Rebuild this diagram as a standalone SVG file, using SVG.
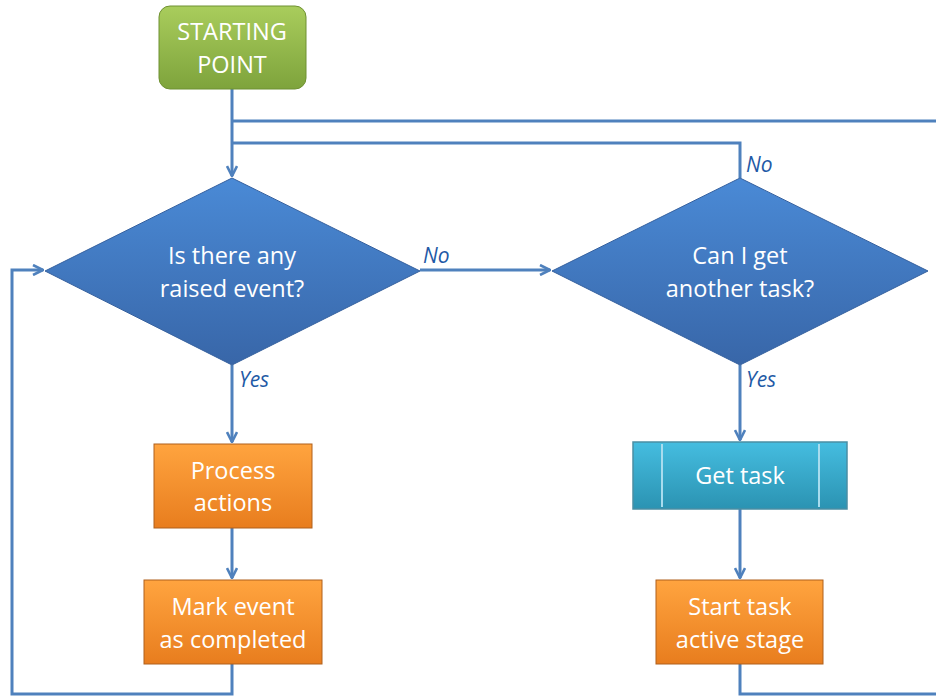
<svg xmlns="http://www.w3.org/2000/svg" width="936" height="698" viewBox="0 0 936 698">
  <style>
    .lbl { font-family: "Open Sans", "Noto Sans", "Liberation Sans", sans-serif; font-size: 23.5px; fill: #ffffff; text-anchor: middle; }
    .br { font-family: "Open Sans", "Noto Sans", "Liberation Sans", sans-serif; font-size: 21px; font-style: italic; fill: #1f5aa6; }
    .wire { fill: none; stroke: #4f81bd; stroke-width: 3; }
  </style>
  <defs>
    <linearGradient id="gGreen" x1="0" y1="0" x2="0" y2="1">
      <stop offset="0" stop-color="#a9cd5c"/>
      <stop offset="1" stop-color="#7ea33c"/>
    </linearGradient>
    <linearGradient id="gBlue" x1="0" y1="0" x2="0" y2="1">
      <stop offset="0" stop-color="#4a8ad6"/>
      <stop offset="1" stop-color="#3866a8"/>
    </linearGradient>
    <linearGradient id="gOrange" x1="0" y1="0" x2="0" y2="1">
      <stop offset="0" stop-color="#ffa43f"/>
      <stop offset="1" stop-color="#e87d1e"/>
    </linearGradient>
    <linearGradient id="gTeal" x1="0" y1="0" x2="0" y2="1">
      <stop offset="0" stop-color="#45bde0"/>
      <stop offset="1" stop-color="#2b93b2"/>
    </linearGradient>
    <marker id="vee" viewBox="0 0 12 12" refX="11" refY="6" markerWidth="12" markerHeight="12" markerUnits="userSpaceOnUse" orient="auto">
      <path d="M1,1 L11,6 L1,11" fill="none" stroke="#4f81bd" stroke-width="2.6"/>
    </marker>
  </defs>

  <!-- connectors -->
  <g id="connectors">
    <path class="wire" d="M232,89 V176" marker-end="url(#vee)"/>
    <path class="wire" d="M232,121 H936"/>
    <path class="wire" d="M232,143 H740 V178"/>
    <path class="wire" d="M420,270 H550" marker-end="url(#vee)"/>
    <path class="wire" d="M232,365 V442" marker-end="url(#vee)"/>
    <path class="wire" d="M232,528 V578" marker-end="url(#vee)"/>
    <path class="wire" d="M232,664 V694 H12 V270 H43" marker-end="url(#vee)"/>
    <path class="wire" d="M740,365 V440" marker-end="url(#vee)"/>
    <path class="wire" d="M740,509 V578" marker-end="url(#vee)"/>
    <path class="wire" d="M740,664 V694 H936"/>
    <text class="br" x="423" y="263">No</text>
    <text class="br" x="746" y="172">No</text>
    <text class="br" x="239" y="387">Yes</text>
    <text class="br" x="746" y="387">Yes</text>
  </g>

  <g id="start">
    <rect x="159" y="6" width="147" height="83" rx="11" fill="url(#gGreen)" stroke="#6f9132" stroke-width="1"/>
    <text class="lbl" x="232" y="40">STARTING</text>
    <text class="lbl" x="232" y="73">POINT</text>
  </g>

  <g id="raised-event">
    <polygon points="232,178 420,271 232,365 45,271" fill="url(#gBlue)" stroke="#35609e" stroke-width="1"/>
    <text class="lbl" x="232" y="264">Is there any</text>
    <text class="lbl" x="232" y="297">raised event?</text>
  </g>

  <g id="another-task">
    <polygon points="740,178 928,271 740,365 552,271" fill="url(#gBlue)" stroke="#35609e" stroke-width="1"/>
    <text class="lbl" x="740" y="264">Can I get</text>
    <text class="lbl" x="740" y="297">another task?</text>
  </g>

  <g id="process-actions">
    <rect x="154" y="444" width="158" height="84" fill="url(#gOrange)" stroke="#b0601c" stroke-width="1"/>
    <text class="lbl" x="233" y="479">Process</text>
    <text class="lbl" x="233" y="511">actions</text>
  </g>

  <g id="mark-completed">
    <rect x="144" y="580" width="178" height="84" fill="url(#gOrange)" stroke="#b0601c" stroke-width="1"/>
    <text class="lbl" x="233" y="615">Mark event</text>
    <text class="lbl" x="233" y="648">as completed</text>
  </g>

  <g id="get-task">
    <rect x="633" y="442" width="214" height="67" fill="url(#gTeal)" stroke="#4a8ea4" stroke-width="1.5"/>
    <line x1="662" y1="444" x2="662" y2="507" stroke="#a8dcee" stroke-width="2"/>
    <line x1="819" y1="444" x2="819" y2="507" stroke="#a8dcee" stroke-width="2"/>
    <text class="lbl" x="740" y="484">Get task</text>
  </g>

  <g id="start-active">
    <rect x="656" y="580" width="167" height="84" fill="url(#gOrange)" stroke="#b0601c" stroke-width="1"/>
    <text class="lbl" x="740" y="615">Start task</text>
    <text class="lbl" x="740" y="648">active stage</text>
  </g>
</svg>
